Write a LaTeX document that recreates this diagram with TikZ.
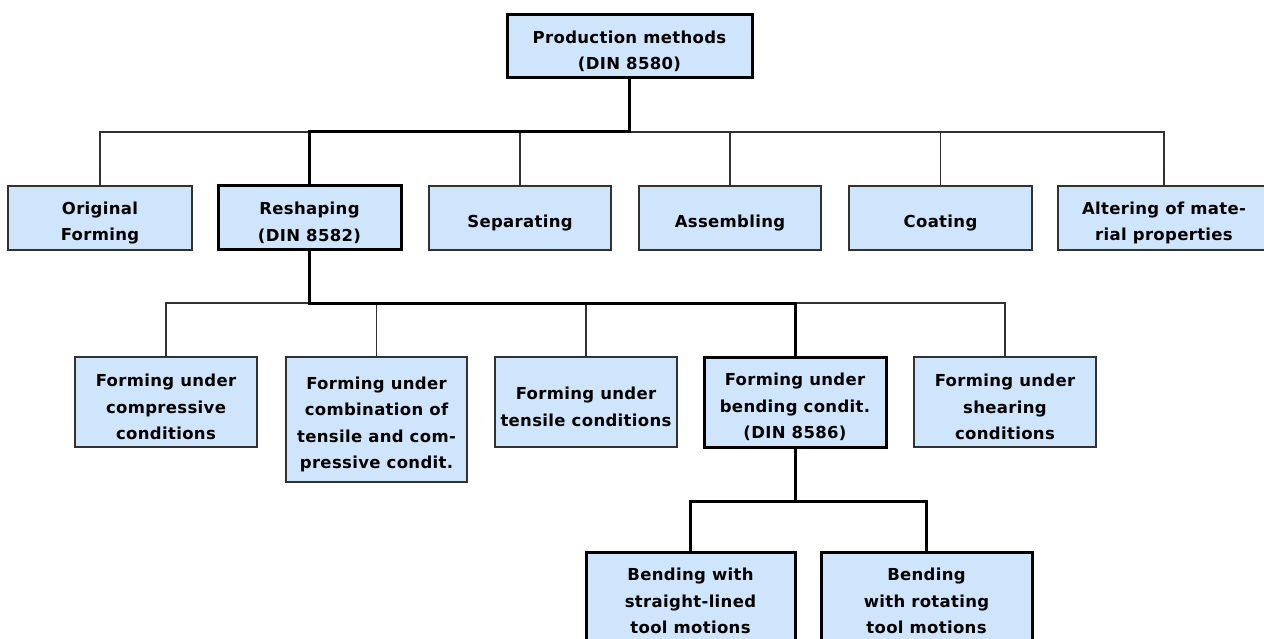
\documentclass[tikz,border=0pt]{standalone}
\usepackage{fontspec}
\newfontfamily\lab{DejaVu Sans}[LetterSpace=2]
\definecolor{boxfill}{RGB}{206,229,252}
\definecolor{thinline}{RGB}{50,50,50}
\newcommand{\dn}{\rule{0pt}{22.5pt}}
\tikzset{
  box/.style={draw=thinline, line width=1.5pt, fill=boxfill, rectangle, inner sep=0pt,
    align=center, font={\lab\bfseries\fontsize{16.5}{26.5}\selectfont}, text=black},
  bold box/.style={box, draw=black, line width=3pt},
  thin/.style={draw=thinline, line width=1.5pt},
  heavy/.style={draw=black, line width=3pt}
}
\begin{document}
\begin{tikzpicture}[x=1pt,y=-1pt]
\useasboundingbox (0,0) rectangle (1264,639);
\clip (0,0) rectangle (1264,639);
\fill[white] (0,0) rectangle (1264,639);
% top
\node[bold box, minimum width=245, minimum height=63] (top) at (629.5,46.5) {\dn Production methods\\(DIN 8580)};
% row 2
\node[box, minimum width=184, minimum height=64] (orig) at (100,218) {\dn Original\\Forming};
\node[bold box, minimum width=183, minimum height=64] (resh) at (309.5,218) {\dn Reshaping\\(DIN 8582)};
\node[box, minimum width=182, minimum height=64] (sep) at (520,218) {\dn Separating};
\node[box, minimum width=182, minimum height=64] (ass) at (730,218) {\dn Assembling};
\node[box, minimum width=183, minimum height=64] (coat) at (940.5,218) {\dn Coating};
\node[box, minimum width=212, minimum height=64] (alt) at (1164,218) {\dn Altering of mate-\\rial properties};
% row 3
\node[box, minimum width=182, minimum height=90] (comp) at (166,402) {\dn Forming under\\compressive\\conditions};
\node[box, minimum width=181, minimum height=125] (comb) at (376.5,419.5) {\dn Forming under\\combination of\\tensile and com-\\pressive condit.};
\node[box, minimum width=182, minimum height=90] (tens) at (586,402) {\dn Forming under\\tensile conditions};
\node[bold box, minimum width=182, minimum height=90] (bend) at (795,402) {\dn Forming under\\bending condit.\\(DIN 8586)};
\node[box, minimum width=182, minimum height=90] (shear) at (1005,402) {\dn Forming under\\shearing\\conditions};
% row 4
\node[bold box, minimum width=209, minimum height=98] (bsl) at (690.5,601) {Bending with\\straight-lined\\tool motions};
\node[bold box, minimum width=211, minimum height=98] (brt) at (926.5,601) {Bending\\with rotating\\tool motions};
% junctions
\coordinate (h1) at (629.5,132);
\coordinate (h2) at (309.5,303);
\coordinate (h3) at (795,501);
% thin connectors
\draw[thin] (h1) -| (orig.north);
\draw[thin] (h1) -| (sep.north);
\draw[thin] (h1) -| (ass.north);
\draw[thin] (h1) -| (coat.north);
\draw[thin] (h1) -| (alt.north);
\draw[thin] (h2) -| (comp.north);
\draw[thin] (h2) -| (comb.north);
\draw[thin] (h2) -| (tens.north);
\draw[thin] (h2) -| (shear.north);
% thick connectors
\draw[heavy] (top.south) -- (h1) -| (resh.north);
\draw[heavy] (resh.south) -- (h2) -| (bend.north);
\draw[heavy] (bend.south) -- (h3);
\draw[heavy] (h3) -| (bsl.north);
\draw[heavy] (h3) -| (brt.north);
\end{tikzpicture}
\end{document}
